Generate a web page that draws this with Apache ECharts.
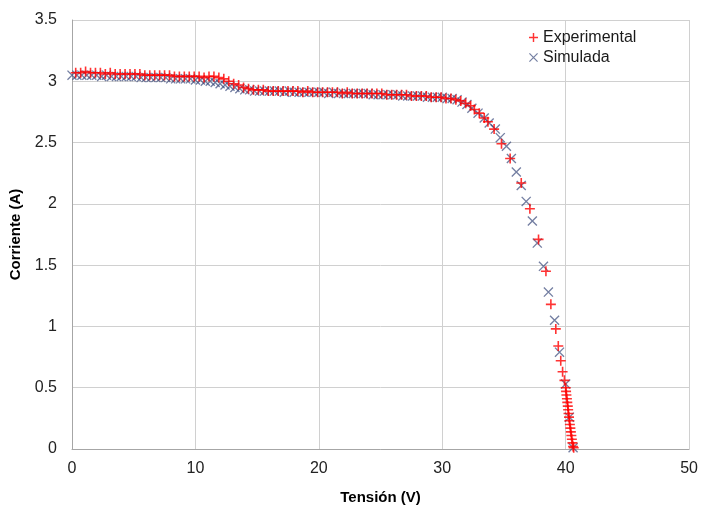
<!DOCTYPE html>
<html>
<head>
<meta charset="utf-8">
<script src="https://cdn.jsdelivr.net/npm/echarts@6/dist/echarts.min.js"></script>
<style>
  html, body { margin: 0; padding: 0; background: #fff; }
  #chart { width: 701px; height: 510px; }
</style>
</head>
<body>
<div id="chart"></div>
<script>
// curva I-V: medidas y modelo
var expV = [0.3, 0.7, 1.1, 1.5, 1.9, 2.3, 2.7, 3.1, 3.5, 3.9, 4.3, 4.7, 5.1, 5.5, 5.9, 6.3, 6.7, 7.1, 7.5, 7.9,
  8.3, 8.7, 9.1, 9.5, 9.9, 10.3, 10.7, 11.1, 11.5, 11.9, 12.3, 12.7, 13.1, 13.5, 13.9, 14.3, 14.7, 15.1, 15.5, 15.9,
  16.3, 16.7, 17.1, 17.5, 17.9, 18.3, 18.7, 19.1, 19.5, 19.9, 20.3, 20.7, 21.1, 21.5, 21.9, 22.3, 22.7, 23.1, 23.5, 23.9,
  24.3, 24.7, 25.1, 25.5, 25.9, 26.3, 26.7, 27.1, 27.5, 27.9, 28.3, 28.7, 29.1, 29.5, 29.9, 30.3, 30.7, 31.1, 31.5, 31.9,
  32.3, 32.6, 33.0, 33.4, 33.7, 34.2, 34.8, 35.5, 36.4, 37.1, 37.8, 38.4, 38.8, 39.2, 39.4, 39.6, 39.75, 39.9,
  40.0, 40.03, 40.06, 40.1, 40.13, 40.17, 40.2, 40.23, 40.27, 40.3, 40.34, 40.38, 40.42, 40.46, 40.5, 40.55, 40.6, 40.65];
var expI = [3.07, 3.07, 3.08, 3.07, 3.07, 3.07, 3.06, 3.07, 3.06, 3.06, 3.06, 3.06, 3.06, 3.06, 3.05, 3.05, 3.05, 3.05, 3.05, 3.05,
  3.04, 3.04, 3.04, 3.04, 3.04, 3.04, 3.03, 3.04, 3.04, 3.03, 3.02, 3.00, 2.98, 2.97, 2.95, 2.94, 2.93, 2.93, 2.93, 2.92,
  2.92, 2.92, 2.92, 2.92, 2.92, 2.92, 2.91, 2.92, 2.91, 2.91, 2.91, 2.91, 2.91, 2.91, 2.90, 2.91, 2.90, 2.90, 2.90, 2.90,
  2.90, 2.90, 2.90, 2.89, 2.89, 2.89, 2.89, 2.89, 2.88, 2.88, 2.88, 2.88, 2.87, 2.87, 2.87, 2.86, 2.86, 2.85, 2.84, 2.82,
  2.80, 2.77, 2.74, 2.70, 2.67, 2.61, 2.49, 2.37, 2.17, 1.96, 1.71, 1.45, 1.18, 0.98, 0.84, 0.72, 0.63, 0.56,
  0.50, 0.47, 0.44, 0.41, 0.38, 0.35, 0.32, 0.29, 0.26, 0.23, 0.20, 0.17, 0.14, 0.11, 0.08, 0.05, 0.02, 0.01];

var simV = [0.0, 0.4, 0.8, 1.2, 1.6, 2.0, 2.4, 2.8, 3.2, 3.6, 4.0, 4.4, 4.8, 5.2, 5.6, 6.0, 6.4, 6.8, 7.2, 7.6,
  8.0, 8.4, 8.8, 9.2, 9.6, 10.0, 10.4, 10.8, 11.2, 11.6, 12.0, 12.4, 12.8, 13.2, 13.6, 14.0, 14.4, 14.8, 15.2, 15.6,
  16.0, 16.4, 16.8, 17.2, 17.6, 18.0, 18.4, 18.8, 19.2, 19.6, 20.0, 20.4, 20.8, 21.2, 21.6, 22.0, 22.4, 22.8, 23.2, 23.6,
  24.0, 24.4, 24.8, 25.2, 25.6, 26.0, 26.4, 26.8, 27.2, 27.6, 28.0, 28.4, 28.8, 29.2, 29.6, 30.0, 30.4, 30.8, 31.2, 31.6,
  32.0, 32.4, 32.9, 33.4, 33.8, 34.3, 34.7, 35.2, 35.6, 36.0, 36.4, 36.8, 37.3, 37.7, 38.2, 38.6, 39.1, 39.5, 40.0, 40.3, 40.6];
var simI = [3.05, 3.05, 3.05, 3.05, 3.05, 3.05, 3.04, 3.05, 3.04, 3.04, 3.04, 3.04, 3.04, 3.04, 3.03, 3.03, 3.03, 3.03, 3.03, 3.03,
  3.02, 3.02, 3.02, 3.02, 3.02, 3.01, 3.01, 3.00, 3.00, 2.99, 2.98, 2.97, 2.96, 2.95, 2.94, 2.93, 2.93, 2.92, 2.92, 2.92,
  2.92, 2.92, 2.92, 2.91, 2.92, 2.91, 2.91, 2.91, 2.91, 2.91, 2.91, 2.91, 2.90, 2.91, 2.90, 2.90, 2.90, 2.90, 2.90, 2.90,
  2.90, 2.89, 2.89, 2.89, 2.89, 2.89, 2.89, 2.88, 2.88, 2.88, 2.88, 2.88, 2.87, 2.87, 2.87, 2.87, 2.86, 2.86, 2.85, 2.83,
  2.81, 2.78, 2.74, 2.70, 2.66, 2.61, 2.54, 2.47, 2.37, 2.26, 2.15, 2.02, 1.86, 1.68, 1.49, 1.28, 1.05, 0.79, 0.53, 0.26, 0.01];

var xTicks = [0, 10, 20, 30, 40, 50];
var yTicks = [0, 0.5, 1, 1.5, 2, 2.5, 3, 3.5];

var plusIcon = 'path://M4.2,0H5.8V4.2H10V5.8H5.8V10H4.2V5.8H0V4.2H4.2Z';
var crossIcon = 'path://M0,0.95L0.95,0L10,9.05L9.05,10ZM10,0.95L0.95,10L0,9.05L9.05,0Z';
var redCol = '#ff0000';
var blueCol = 'rgba(52,68,118,0.85)';

function pairs(xs, ys) {
  return xs.map(function (v, i) { return [v, ys[i]]; });
}

var chart = echarts.init(document.getElementById('chart'));
chart.setOption({
  animation: false,
  backgroundColor: '#fff',
  grid: { left: 69, right: 10, top: 20, bottom: 49 },
  legend: {
    orient: 'vertical',
    left: 524,
    top: 24,
    itemWidth: 9,
    itemHeight: 9,
    itemGap: 3,
    textStyle: { fontFamily: 'Liberation Sans, Arial', fontSize: 16, color: '#1a1a1a', lineHeight: 17 },
    data: [
      { name: 'Experimental', icon: plusIcon, itemStyle: { color: redCol } },
      { name: 'Simulada', icon: crossIcon, itemStyle: { color: blueCol } }
    ]
  },
  xAxis: {
    type: 'value',
    min: 0, max: 50, interval: 10,
    name: 'Tensión (V)',
    nameLocation: 'middle',
    nameGap: 41,
    nameTextStyle: { fontFamily: 'Liberation Sans, Arial', fontSize: 15, fontWeight: 'bold', color: '#000' },
    axisLine: { lineStyle: { color: '#a6a6a6', width: 1 } },
    axisTick: { show: false },
    axisLabel: {
      margin: 12, fontFamily: 'Liberation Sans, Arial', fontSize: 16, color: '#222',
      formatter: function (v) { return xTicks.indexOf(v) >= 0 ? String(v) : ''; }
    },
    splitLine: { show: true, lineStyle: { color: '#d0d0d0', width: 1 } }
  },
  yAxis: {
    type: 'value',
    min: 0, max: 3.5, interval: 0.5,
    name: 'Corriente (A)',
    nameLocation: 'middle',
    nameGap: 49,
    nameTextStyle: { fontFamily: 'Liberation Sans, Arial', fontSize: 15, fontWeight: 'bold', color: '#000' },
    axisLine: { show: true, lineStyle: { color: '#a6a6a6', width: 1 } },
    axisTick: { show: false },
    axisLabel: {
      margin: 15, fontFamily: 'Liberation Sans, Arial', fontSize: 16, color: '#222',
      formatter: function (v) { return yTicks.indexOf(v) >= 0 ? String(v) : ''; }
    },
    splitLine: { show: true, lineStyle: { color: '#d0d0d0', width: 1 } }
  },
  series: [
    {
      name: 'Simulada',
      type: 'scatter',
      symbol: crossIcon,
      symbolSize: 10,
      itemStyle: { color: blueCol },
      data: pairs(simV, simI),
      z: 2
    },
    {
      name: 'Experimental',
      type: 'scatter',
      symbol: plusIcon,
      symbolSize: 10,
      itemStyle: { color: redCol },
      data: pairs(expV, expI),
      z: 3
    }
  ]
});
</script>
</body>
</html>
